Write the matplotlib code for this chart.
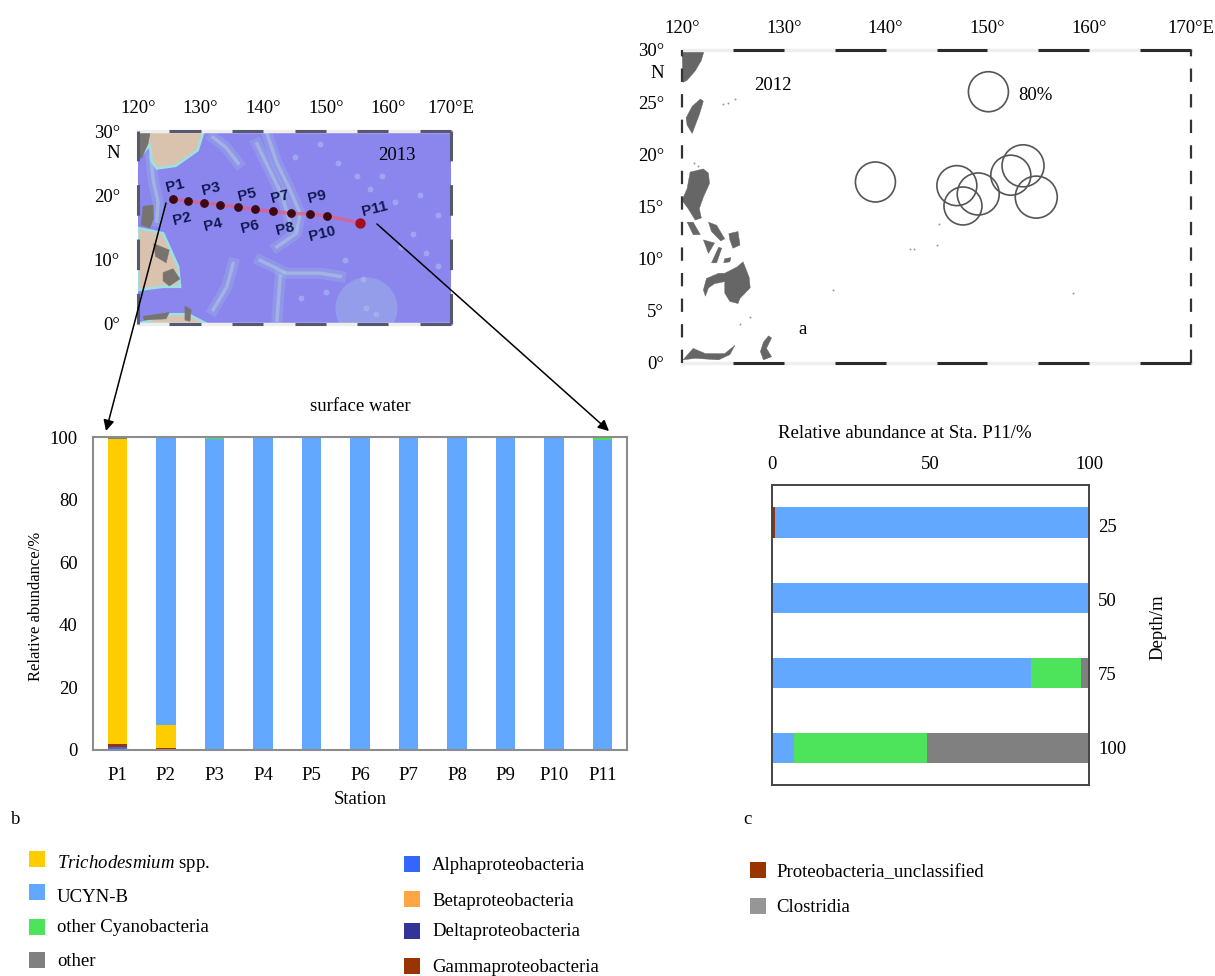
import matplotlib
matplotlib.use('Agg')
import matplotlib.pyplot as plt
from matplotlib.patches import Polygon, Rectangle
import numpy as np

plt.rcParams['font.family'] = ['Liberation Serif', 'DejaVu Sans']
plt.rcParams['font.size'] = 13.5
plt.rcParams['axes.titlesize'] = 13.5
plt.rcParams['axes.labelsize'] = 13.5
plt.rcParams['mathtext.fontset'] = 'custom'
plt.rcParams['mathtext.it'] = 'Liberation Serif:italic'

W, H = 1215, 976

# panel b, surface water
stations = ['P1', 'P2', 'P3', 'P4', 'P5', 'P6', 'P7', 'P8', 'P9', 'P10', 'P11']
alpha_b = [0.8, 0, 0, 0, 0, 0, 0, 0, 0, 0, 0]
delta_b = [0, 0, 0, 0, 0.3, 0, 0, 0, 0, 0, 0]
gamma_b = [1.2, 0.5, 0.1, 0, 0, 0.4, 0, 0.1, 0, 0, 0.4]
trich_b = [97.3, 7.6, 0, 0, 0, 0, 0, 0, 0, 0, 0]
ucyn_b = [0, 91.7, 99.3, 100, 99.7, 99.6, 100, 99.6, 99.7, 100, 98.8]
cyano_b = [0, 0, 0.6, 0, 0, 0, 0, 0.3, 0.3, 0, 0.5]
other_b = [0.7, 0.2, 0, 0, 0, 0, 0, 0, 0, 0, 0.3]

# panel c, Sta. P11 depth profile
depths = ['25', '50', '75', '100']
proteo_c = [0.8, 0, 0, 0]
ucyn_c = [99.2, 99.6, 81.8, 6.9]
cyano_c = [0, 0.4, 15.6, 41.9]
other_c = [0, 0, 2.6, 51.2]

# panel a, 2012 circles
circle_lon = [150.1, 139.0, 147.0, 149.1, 147.6, 152.3, 153.5, 154.8]
circle_lat = [26.0, 17.35, 17.0, 16.2, 15.05, 18.0, 18.9, 15.9]
circle_size = [40, 40, 40, 42, 38, 40, 42, 42]

# map station track, 2013
track_lon = [125.6, 128.0, 130.5, 133.1, 135.9, 138.7, 141.6, 144.4, 147.4, 150.2, 155.5]
track_lat = [19.4, 19.1, 18.8, 18.5, 18.2, 17.8, 17.5, 17.2, 17.1, 16.8, 15.7]
label_x = [175, 182, 211, 213, 247, 250, 280, 285, 317, 322, 375]
label_y = [186, 219, 189, 225, 195, 227, 197, 229, 197, 234, 209]

# land outlines (lon, lat)
land_a = [
    ([120, 122.2, 121.9, 121.3, 120.5, 120.1], [30, 30, 29, 28, 27.1, 26.9]),
    ([121.8, 122.1, 121.7, 121, 120.5, 120.4, 121], [25.3, 25.1, 23.8, 22, 22.8, 23.5, 24.6]),
    ([120.8, 122.1, 122.6, 122.7, 122.1, 121.7, 121.9, 121.3, 120.6, 120, 120.5],
     [18.3, 18.6, 18.2, 17.2, 15.9, 14.8, 13.9, 13.7, 14.8, 15.6, 16.7]),
    ([125.4, 126, 126.6, 126.7, 125.7, 125.5, 124.7, 124.2, 124.2, 123.2, 122.6, 122.3, 122.1, 122.4, 123.6, 124.2],
     [9.2, 9.7, 8.2, 7.2, 6.2, 5.7, 5.9, 6.7, 7.8, 7.6, 7.2, 6.4, 7, 8.1, 8.6, 8.6]),
    ([120.5, 121.1, 121.8, 121.1], [13.5, 13.5, 12.3, 12.3]),
    ([122.1, 123.2, 122.6], [11.8, 11.5, 10.5]),
    ([124.6, 125.5, 125.7, 125, 124.7], [12.4, 12.6, 11.3, 11, 11.8]),
    ([123.6, 123.9, 123.4, 122.9], [11.1, 11, 9.6, 9.6]),
    ([124.2, 124.8, 124.7, 124.1], [10, 10.1, 9.7, 9.6]),
    ([122.6, 123.4, 124.2, 123.8, 122.9], [13.5, 13.2, 11.9, 11.7, 12.6]),
    ([120.1, 121.1, 122.3, 124.2, 125.2, 124.7, 123.6, 121.3], [0.3, 1.4, 0.9, 0.9, 1.7, 0.8, 0.3, 0.45]),
    ([128.5, 128.8, 128.3, 128.8, 128, 127.7, 128], [2.6, 2.4, 1.4, 0.6, 0.3, 1.1, 2]),
]
islets_lon = [124.0, 124.5, 125.2, 134.8, 142.4, 142.8, 145.0, 145.2, 158.4, 121.2, 121.6, 126.7, 125.7]
islets_lat = [24.8, 24.9, 25.3, 7.0, 10.9, 10.9, 11.3, 13.3, 6.7, 19.2, 18.9, 4.4, 3.7]

tan_b = [
    ([120, 130.5, 129.5, 126, 123, 122.2, 121.9, 120], [30, 30, 27, 24.6, 24.2, 25.3, 27.8, 25.7]),
    ([120, 124, 126.4, 126.7, 124, 120], [14.9, 14.1, 8.9, 5.8, 5.8, 5.3]),
    ([120, 125, 128, 131, 129, 120], [0, 1.5, 1.5, 0, 0, 0]),
]
gray_b = [
    ([120, 122, 121.6, 120.6, 120], [30, 30, 28, 25.8, 25.8]),
    ([120.8, 122.4, 122.5, 121.9, 120.5], [18.3, 18.5, 16.4, 14.9, 15.4]),
    ([124, 125.6, 126.7, 125, 124], [8, 8.6, 7, 5.9, 6.7]),
    ([122.5, 125, 124.5, 122.8], [12.5, 11.5, 9.5, 10.5]),
    ([120.8, 125, 124.5, 121], [1.2, 1.8, 0.8, 0.6]),
    ([127.5, 128.5, 128.3, 127.5], [2.8, 2.2, 0.4, 0.6]),
]
ridges_b = [
    ([140.6, 142.2, 144.3, 145.9, 145.3, 142.2], [29.6, 25, 20.8, 17.2, 14.1, 12]),
    ([139, 141, 143, 144.5], [28, 24, 20, 15]),
    ([132, 134, 136], [29, 27.5, 25]),
    ([135.2, 134.2, 132], [9.4, 5.8, 2.2]),
    ([139.5, 143.7, 149.1, 152.3], [9.9, 7.9, 7.9, 7.4]),
    ([142.7, 142.2], [7.4, 0.6]),
    ([122, 122.5, 123.2, 123], [26, 22, 19, 16]),
]
reef_lon = [145, 149, 152, 155, 157, 159, 161, 162, 164, 166, 168, 153, 156, 156.5, 158, 150, 146, 165, 168]
reef_lat = [26, 28, 25, 23, 21, 23, 19, 12, 14, 11, 9, 10, 7, 2.5, 1.5, 5, 4, 20, 17]


def px_axes(x0, y0, x1, y1):
    return fig.add_axes([x0 / W, 1 - y1 / H, (x1 - x0) / W, (y1 - y0) / H])


def frame(ax, lon0, lat0, step, top_col, side_col, lw_side, side_dash):
    # alternating bars along top and bottom of a map
    for lat in (lat0, 30):
        ax.plot([120, 170], [lat, lat], color='#eeeeee', lw=2.5, clip_on=False, zorder=5)
        for lon in np.arange(lon0, 170, step * 2):
            ax.plot([lon, lon + step], [lat, lat], color=top_col, lw=2.2, clip_on=False,
                    solid_capstyle='butt', zorder=6)
    for lon in (120, 170):
        ax.plot([lon, lon], [0, 30], color=side_col, lw=lw_side, clip_on=False,
                linestyle=(0, side_dash), zorder=6)


fig = plt.figure(figsize=(W / 100, H / 100), dpi=100)

# map 2012
ax_a = px_axes(682, 50, 1191, 363)
ax_a.set_xlim(120, 170)
ax_a.set_ylim(0, 30)
for lon, lat in land_a:
    ax_a.add_patch(Polygon(np.column_stack([lon, lat]), color='#666666', lw=0.3))
ax_a.scatter(islets_lon, islets_lat, s=2, color='#999999', lw=0)
ax_a.scatter(circle_lon, circle_lat, s=(np.array(circle_size) * 0.72) ** 2,
             facecolors='none', edgecolors='#555555', linewidths=1.2, zorder=4)
ax_a.set_xticks(np.arange(120, 171, 10))
ax_a.set_xticklabels(['120°', '130°', '140°', '150°', '160°', '170°E'])
ax_a.set_yticks(np.arange(0, 31, 5))
ax_a.set_yticklabels(['0°', '5°', '10°', '15°', '20°', '25°', '30°'])
ax_a.tick_params(top=True, labeltop=True, bottom=False, labelbottom=False, left=False, length=0)
ax_a.tick_params(axis='y', pad=13)
ax_a.tick_params(axis='x', pad=9.5)
for s in ax_a.spines.values():
    s.set_visible(False)
frame(ax_a, 125, 0, 5, '#2a2a2a', '#333333', 1.6, (6, 5.5))

# map 2013
ax_m = px_axes(138, 131, 451, 324)
ax_m.set_xlim(120, 170)
ax_m.set_ylim(0, 30)
ax_m.set_facecolor('#8b86ee')
for lon, lat in ridges_b:
    ax_m.plot(lon, lat, color='#a9e0dc', lw=8, alpha=0.18, zorder=1)
    ax_m.plot(lon, lat, color='#c5ecd8', lw=2.5, alpha=0.35, zorder=1)
ax_m.scatter(reef_lon, reef_lat, s=18, color='#b4c6ee', alpha=0.5, lw=0, zorder=1)
ax_m.scatter([156.5], [2.5], s=2000, color='#a3c8e0', alpha=0.35, lw=0, zorder=1)
for lon, lat in tan_b:
    ax_m.add_patch(Polygon(np.column_stack([lon, lat]), facecolor='#d9c3ae', edgecolor='#9fdfe0', lw=2, zorder=2))
for lon, lat in gray_b:
    ax_m.add_patch(Polygon(np.column_stack([lon, lat]), color='#77746f', lw=0.3, zorder=3))
ax_m.plot(track_lon, track_lat, color='#e0608c', lw=2.5, alpha=0.8, zorder=4)
ax_m.scatter(track_lon[:-1], track_lat[:-1], s=28, color='#3d0a14', zorder=5)
ax_m.scatter(track_lon[-1:], track_lat[-1:], s=42, color='#a01020', zorder=5)
ax_m.set_xticks(np.arange(120, 171, 10))
ax_m.set_xticklabels(['120°', '130°', '140°', '150°', '160°', '170°E'])
ax_m.set_yticks([0, 10, 20, 30])
ax_m.set_yticklabels(['0°', '10°', '20°', '30°'])
ax_m.tick_params(top=True, labeltop=True, bottom=False, labelbottom=False, left=False, length=0)
ax_m.tick_params(axis='y', pad=13)
ax_m.tick_params(axis='x', pad=10)
for s in ax_m.spines.values():
    s.set_visible(False)
frame(ax_m, 125, 0, 5, '#55586e', '#55586e', 2.2, (10, 7.8))

# bars, panel b
ax_b = px_axes(93, 437, 627, 750)
x = np.arange(len(stations))
bottom = np.zeros(len(stations))
series_b = [(alpha_b, '#3366ff'), (delta_b, '#333399'), (gamma_b, '#993300'), (trich_b, '#ffcc00'),
            (ucyn_b, '#62a8ff'), (cyano_b, '#4de35a'), (other_b, '#808080')]
for vals, col in series_b:
    ax_b.bar(x, vals, 0.4, bottom=bottom, color=col)
    bottom += np.array(vals)
ax_b.set_xlim(-0.5, 10.5)
ax_b.set_ylim(0, 100)
ax_b.set_xticks(x)
ax_b.set_xticklabels(stations)
ax_b.set_yticks(np.arange(0, 101, 20))
ax_b.tick_params(length=0)
ax_b.tick_params(axis='x', pad=12)
ax_b.tick_params(axis='y', pad=11)
ax_b.set_xlabel('Station', labelpad=5)
ax_b.set_ylabel('Relative abundance/%', labelpad=4, fontsize=12, y=0.46)
ax_b.set_title('surface water', pad=19)
for s in ax_b.spines.values():
    s.set_color('#8c8c8c')
    s.set_linewidth(1.5)

# bars, panel c
ax_c = px_axes(772, 485, 1089, 785)
y = np.arange(len(depths))
left = np.zeros(len(depths))
for vals, col in [(proteo_c, '#993300'), (ucyn_c, '#62a8ff'), (cyano_c, '#4de35a'), (other_c, '#808080')]:
    ax_c.barh(y, vals, 0.4, left=left, color=col)
    left += np.array(vals)
ax_c.set_xlim(0, 100)
ax_c.set_ylim(3.5, -0.5)
ax_c.set_xticks([0, 50, 100])
ax_c.set_yticks(y)
ax_c.tick_params(top=True, labeltop=True, bottom=False, labelbottom=False, left=False, right=False,
                 labelleft=False, labelright=False, length=0)
ax_c.tick_params(axis='x', pad=8.5)
ax_c.set_xlabel('Relative abundance at Sta. P11/%', labelpad=13, x=0.42)
ax_c.xaxis.set_label_position('top')
for s in ax_c.spines.values():
    s.set_color('#444444')
    s.set_linewidth(1.4)

# overlay in pixel coordinates
ov = fig.add_axes([0, 0, 1, 1], facecolor='none')
ov.set_xlim(0, W)
ov.set_ylim(H, 0)
ov.axis('off')
ov.annotate('', xy=(106, 431), xytext=(166, 203), arrowprops=dict(arrowstyle='-|>', color='black', lw=1.1, mutation_scale=16, shrinkA=0, shrinkB=0))
ov.annotate('', xy=(609, 431), xytext=(377, 224), arrowprops=dict(arrowstyle='-|>', color='black', lw=1.1, mutation_scale=16, shrinkA=0, shrinkB=0))
for name, lx, ly in zip(stations, label_x, label_y):
    ov.text(lx, ly, name, fontsize=11, family='Liberation Sans', fontweight='bold', color='#101850',
            rotation=14, ha='center', va='center')
for d, dy in zip(depths, [527, 601, 675, 749]):
    ov.text(1098, dy, d, ha='left', va='center')
ov.text(1158, 627, 'Depth/m', rotation=90, ha='center', va='center')
ov.text(397, 156, '2013', ha='center', va='center')
ov.text(113, 153, 'N', ha='center', va='center')
ov.text(657, 74, 'N', ha='center', va='center')
ov.text(773, 85, '2012', ha='center', va='center')
ov.text(1035, 95, '80%', ha='center', va='center')
ov.text(803, 329, 'a', ha='center', va='center')
ov.text(16, 820, 'b', ha='center', va='center')
ov.text(747, 820, 'c', ha='center', va='center')

legend_col = ['#ffcc00', '#62a8ff', '#4de35a', '#808080', '#3366ff', '#ffa544', '#333399', '#993300', '#993300', '#969696']
legend_txt = ['$\\mathit{Trichodesmium}$ spp.', 'UCYN-B', 'other Cyanobacteria', 'other', 'Alphaproteobacteria',
              'Betaproteobacteria', 'Deltaproteobacteria', 'Gammaproteobacteria', 'Proteobacteria_unclassified', 'Clostridia']
legend_x = [29, 29, 29, 29, 404, 404, 404, 404, 750, 750]
legend_y = [859, 892, 927, 960, 864, 899, 931, 966, 870, 906]
text_x = [57, 57, 57, 57, 432, 432, 432, 432, 776, 776]
text_y = [863, 897, 928, 961, 865, 902, 932, 968, 873, 908]
for c, t, lx, ly, tx, ty in zip(legend_col, legend_txt, legend_x, legend_y, text_x, text_y):
    ov.add_patch(Rectangle((lx, ly - 8), 16, 16, color=c, lw=0))
    ov.text(tx, ty, t, ha='left', va='center')

fig.savefig('out.png', dpi=100)
